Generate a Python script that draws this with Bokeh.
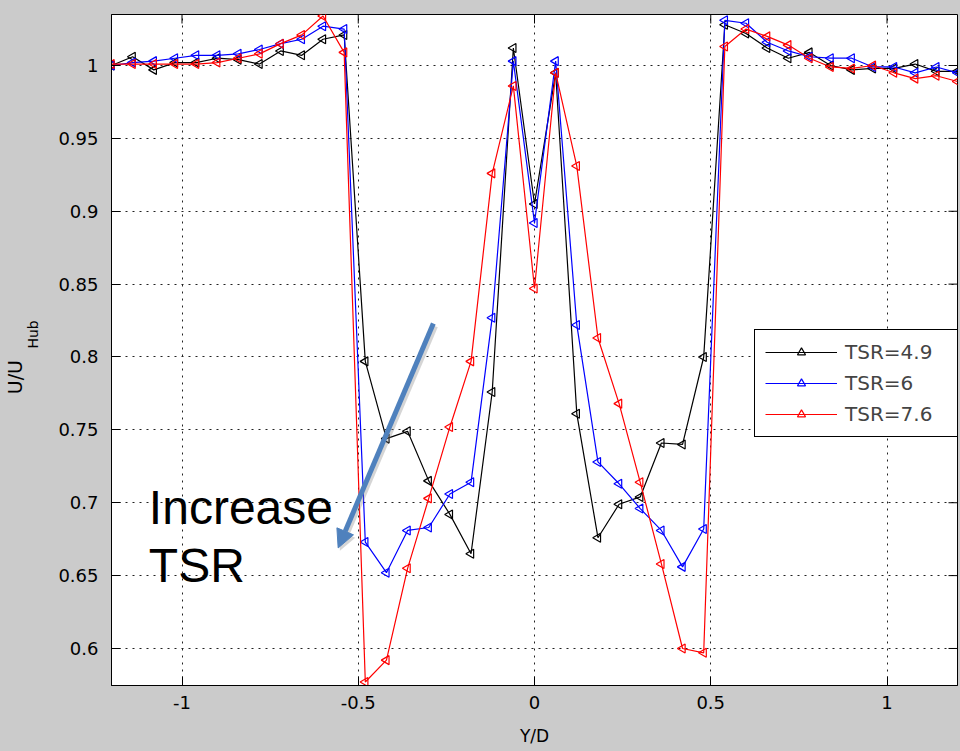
import numpy as np
from bokeh.plotting import figure
from bokeh.models import (Range1d, FixedTicker, Legend, LegendItem, LinearAxis,
                          Label, Arrow, NormalHead)
from bokeh.embed import file_html
from bokeh.resources import INLINE

# ---------------- data ----------------
y_over_d = [-1.2, -1.14, -1.08, -1.02, -0.96, -0.9, -0.84, -0.78, -0.72, -0.66,
            -0.6, -0.54, -0.48, -0.42, -0.36, -0.3, -0.24, -0.18, -0.12, -0.06,
            0.0, 0.06, 0.12, 0.18, 0.24, 0.3, 0.36, 0.42, 0.48, 0.54,
            0.6, 0.66, 0.72, 0.78, 0.84, 0.9, 0.96, 1.02, 1.08, 1.14, 1.2]

tsr_4_9 = [1.000, 1.006, 0.997, 1.002, 1.002, 1.005, 1.004, 1.001, 1.010, 1.007,
           1.018, 1.021, 0.797, 0.744, 0.749, 0.715, 0.692, 0.665, 0.776, 1.012,
           0.905, 0.995, 0.761, 0.676, 0.699, 0.704, 0.741, 0.740, 0.800, 1.028,
           1.022, 1.012, 1.005, 1.009, 1.000, 0.997, 0.998, 0.998, 1.001, 0.996, 0.996]

tsr_6 = [1.000, 1.002, 1.003, 1.005, 1.007, 1.007, 1.008, 1.011, 1.015, 1.018,
         1.027, 1.025, 0.673, 0.652, 0.681, 0.683, 0.706, 0.714, 0.827, 1.003,
         0.892, 1.003, 0.822, 0.728, 0.713, 0.696, 0.681, 0.656, 0.682, 1.031,
         1.029, 1.016, 1.010, 1.006, 1.005, 1.005, 0.999, 0.999, 0.995, 0.999, 0.995]

tsr_7_6 = [1.001, 1.001, 1.001, 1.001, 1.001, 1.002, 1.005, 1.008, 1.015, 1.021,
           1.034, 1.009, 0.577, 0.592, 0.655, 0.703, 0.752, 0.797, 0.926, 0.986,
           0.847, 0.995, 0.931, 0.813, 0.768, 0.714, 0.658, 0.600, 0.597, 1.013,
           1.025, 1.020, 1.014, 1.005, 0.999, 0.998, 1.000, 0.995, 0.991, 0.993, 0.989]

series_labels = ["TSR=4.9", "TSR=6", "TSR=7.6"]
series_colors = ["#000000", "#0000ff", "#ff0000"]

x_ticks = [-1, -0.5, 0, 0.5, 1]
x_tick_labels = ["-1", "-0.5", "0", "0.5", "1"]
y_ticks = [0.6, 0.65, 0.7, 0.75, 0.8, 0.85, 0.9, 0.95, 1.0]
y_tick_labels = ["0.6", "0.65", "0.7", "0.75", "0.8", "0.85", "0.9", "0.95", "1"]

X0, X1 = -1.2, 1.2
Y0, Y1 = 0.5746, 1.035

FONT = "DejaVu Sans"
BG = "#cbcbcb"
NB = "\u00a0"

p = figure(width=960, height=751, output_backend="svg", toolbar_location=None,
           x_range=Range1d(X0, X1), y_range=Range1d(Y0, Y1),
           min_border_left=111, min_border_right=3, min_border_top=14,
           min_border_bottom=66)
p.background_fill_color = "white"
p.border_fill_color = BG
p.outline_line_color = "black"
p.outline_line_width = 1

# axes
p.xaxis.ticker = FixedTicker(ticks=x_ticks)
p.yaxis.ticker = FixedTicker(ticks=y_ticks)
p.xaxis.major_label_overrides = dict(zip(x_ticks, x_tick_labels))
p.yaxis.major_label_overrides = dict(zip(y_ticks, y_tick_labels))
for ax in (p.xaxis[0], p.yaxis[0]):
    ax.major_tick_in = 9
    ax.major_tick_out = 0
    ax.minor_tick_in = 0
    ax.minor_tick_out = 0
    ax.axis_line_color = "black"
    ax.major_tick_line_color = "black"
    ax.major_label_text_font = FONT
    ax.major_label_text_font_size = "18px"
    ax.major_label_text_color = "black"
p.xaxis.major_label_standoff = 10
p.yaxis.major_label_standoff = 13
p.xaxis.axis_label = "Y/D"
p.xaxis.axis_label_text_font = FONT
p.xaxis.axis_label_text_font_size = "17px"
p.xaxis.axis_label_text_font_style = "normal"
p.xaxis.axis_label_text_color = "black"
p.xaxis.axis_label_standoff = 14

# y title "U/U" with subscript "Hub": subscript on the main axis, base text on an outer axis
p.yaxis.axis_label = NB * 7 + "Hub"
p.yaxis.axis_label_text_font = FONT
p.yaxis.axis_label_text_font_size = "14px"
p.yaxis.axis_label_text_font_style = "normal"
p.yaxis.axis_label_text_color = "black"
p.yaxis.axis_label_standoff = 14

outer = LinearAxis(ticker=FixedTicker(ticks=[]), axis_label="U/U" + NB * 9)
outer.axis_line_color = None
outer.major_tick_in = 0
outer.major_tick_out = 0
outer.minor_tick_in = 0
outer.minor_tick_out = 0
outer.major_label_standoff = 0
outer.axis_label_standoff = -3
outer.axis_label_text_font = FONT
outer.axis_label_text_font_size = "19px"
outer.axis_label_text_font_style = "normal"
outer.axis_label_text_color = "black"
p.add_layout(outer, "left")

# inward ticks on the top and right frame edges (MATLAB box style)
tick_dy = (Y1 - Y0) * 9 / 671
tick_dx = (X1 - X0) * 9 / 846
p.segment(x0=x_ticks, y0=[Y1] * len(x_ticks), x1=x_ticks,
          y1=[Y1 - tick_dy] * len(x_ticks), line_color="black", line_width=1)
p.segment(x0=[X1] * len(y_ticks), y0=y_ticks, x1=[X1 - tick_dx] * len(y_ticks),
          y1=y_ticks, line_color="black", line_width=1)

# grid
for g in (p.xgrid[0], p.ygrid[0]):
    g.grid_line_color = "#222222"
    g.grid_line_dash = "2 5"
    g.grid_line_width = 1
p.xgrid.ticker = FixedTicker(ticks=x_ticks)
p.ygrid.ticker = FixedTicker(ticks=y_ticks)

# series
items = []
for vals, lab, col in zip((tsr_4_9, tsr_6, tsr_7_6), series_labels, series_colors):
    ln = p.line(y_over_d, vals, line_color=col, line_width=1.2)
    sc = p.scatter(y_over_d, vals, marker="triangle", angle=np.pi / 2,
                   size=9, fill_color=None, line_color=col, line_width=1.2)
    items.append(LegendItem(label=lab, renderers=[ln, sc]))

legend = Legend(items=items, location=(643, 248))
legend.glyph_width = 72
legend.glyph_height = 20
legend.label_height = 20
legend.label_width = 104
legend.label_standoff = 8
legend.spacing = 7
legend.padding = 10
legend.margin = 0
legend.border_line_color = "black"
legend.border_line_alpha = 1
legend.border_line_width = 1.5
legend.background_fill_color = "white"
legend.background_fill_alpha = 1
legend.label_text_font = FONT
legend.label_text_font_size = "20px"
p.add_layout(legend, "center")

# annotation arrow with shadow
p.add_layout(Arrow(x_start=-0.281, y_start=0.821, x_end=-0.552, y_end=0.667,
                   line_color="#888888", line_alpha=0.35, line_width=5,
                   end=NormalHead(size=18, fill_color="#888888", fill_alpha=0.35,
                                  line_color=None)))
p.add_layout(Arrow(x_start=-0.287, y_start=0.823, x_end=-0.557, y_end=0.669,
                   line_color="#4f81bd", line_width=5,
                   end=NormalHead(size=18, fill_color="#4f81bd", line_color="#4f81bd")))

p.add_layout(Label(x=-1.094, y=0.697, text="Increase", text_font="Liberation Sans",
                   text_font_size="48px", text_color="black",
                   text_baseline="alphabetic"))
p.add_layout(Label(x=-1.094, y=0.657, text="TSR", text_font="Liberation Sans",
                   text_font_size="48px", text_color="black",
                   text_baseline="alphabetic"))

html = file_html(p, INLINE)
html = html.replace("</head>", "<style>html,body{background-color:%s;}</style></head>" % BG, 1)
open("out.html", "w").write(html)
